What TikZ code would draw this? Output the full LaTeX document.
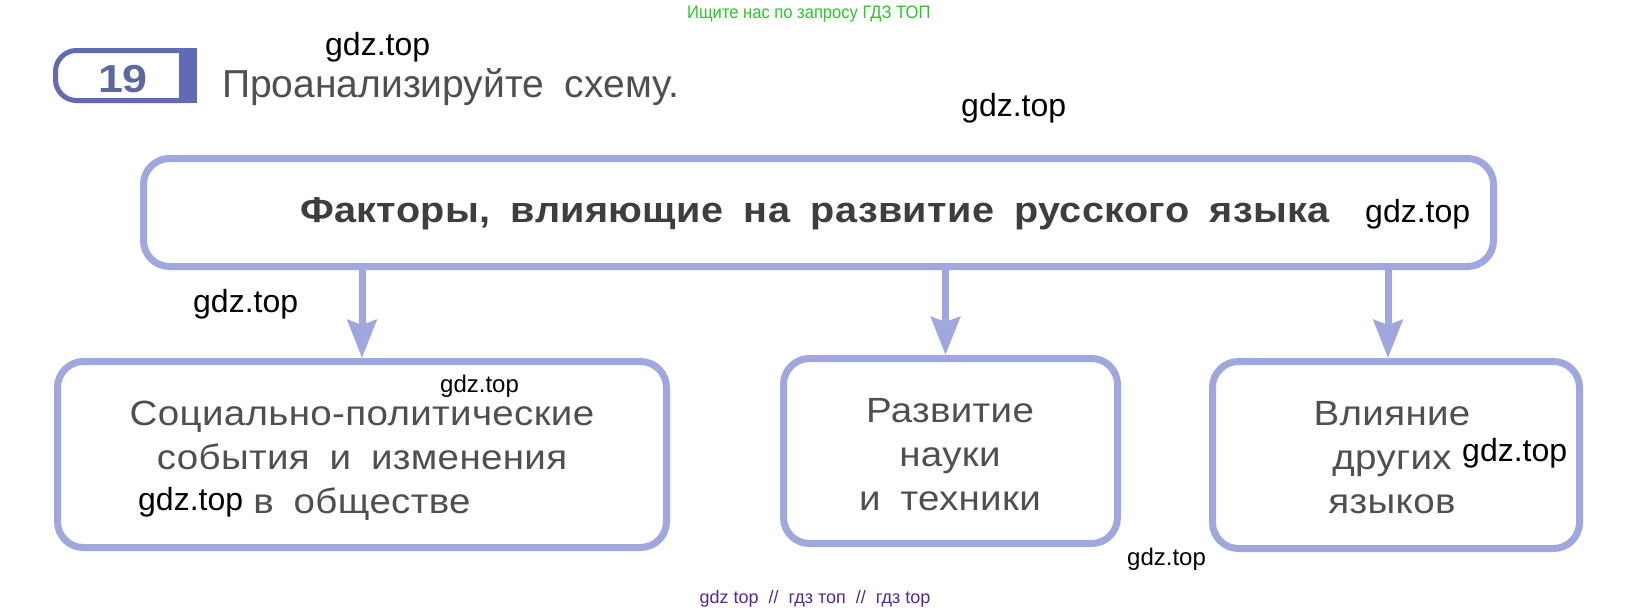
\documentclass[tikz,border=0pt]{standalone}
\usepackage{fontspec}
\setmainfont{Liberation Sans}
\newfontfamily\boxfont[FakeStretch=1.1,LetterSpace=1,WordSpace=1.8]{Liberation Sans}
\newfontfamily\taskfont[WordSpace=1.9]{Liberation Sans}
\newfontfamily\numfont[FakeStretch=1.15]{Liberation Sans}
\newfontfamily\notefont[FakeStretch=0.92]{Liberation Sans}
\usetikzlibrary{arrows.meta}
\definecolor{boxline}{RGB}{160,166,222}
\definecolor{badgeblue}{RGB}{98,106,180}
\definecolor{badgenum}{RGB}{92,104,160}
\definecolor{bodytext}{RGB}{78,80,78}
\definecolor{titletext}{RGB}{62,62,62}
\definecolor{greentext}{RGB}{40,200,40}
\definecolor{purpletext}{RGB}{88,40,140}
\begin{document}
\begin{tikzpicture}[x=1pt,y=-1pt,
  factorbox/.style={draw=boxline, line width=7pt, rounded corners=26pt, fill=white, inner sep=0pt},
  boxtext/.style={inner sep=0pt, align=center, text=bodytext, font=\boxfont\fontsize{35}{44}\selectfont},
  arr/.style={draw=boxline, line width=7pt, -{Stealth[length=38pt,width=29pt,inset=5pt]}},
  wm/.style={font=\fontsize{32}{36}\selectfont, text=black, inner sep=0pt, anchor=base west},
  wmsmall/.style={wm, font=\fontsize{24}{28}\selectfont},
  note/.style={inner sep=0pt}]
\useasboundingbox[fill=white] (0,0) rectangle (1633,611);

% header
\node[note, anchor=base west, font=\notefont\fontsize{18}{20}\selectfont, text=greentext] (topnote) at (687,18) {Ищите нас по запросу ГДЗ ТОП};

% badge
\draw[badgeblue, line width=5pt, rounded corners=21pt] (190,50.5) -- (55.5,50.5) -- (55.5,100.5) -- (190,100.5);
\fill[badgeblue] (179,48) rectangle (197,103);
\node[note, anchor=base, font=\numfont\bfseries\fontsize{39}{40}\selectfont, text=badgenum] (num) at (123,92) {19};
\node[note, anchor=base west, font=\taskfont\fontsize{39}{40}\selectfont, text=bodytext] (task) at (222,97) {Проанализируйте схему.};

% boxes
\node[factorbox, minimum width=1350pt, minimum height=108pt] (top) at (818.5,212.5) {};
\node[boxtext, font=\boxfont\bfseries\fontsize{36}{40}\selectfont, text=titletext] (title) at (815,214) {Факторы, влияющие на развитие русского языка};
\node[factorbox, minimum width=609pt, minimum height=186pt] (b1) at (362,454.5) {};
\node[factorbox, minimum width=334pt, minimum height=185pt] (b2) at (950.5,451) {};
\node[factorbox, minimum width=367pt, minimum height=187pt] (b3) at (1396,455) {};
\node[boxtext] (t1) at (362,461) {Социально-политические\\события и изменения\\в обществе};
\node[boxtext] (t2) at (950,455) {Развитие\\науки\\и техники};
\node[boxtext] (t3) at (1392,458) {Влияние\\других\\языков};

% arrows
\coordinate (a1) at (b1.north);
\coordinate (a2) at ([xshift=-5pt]b2.north);
\coordinate (a3) at ([xshift=-8pt]b3.north);
\draw[arr] (top.south -| a1) -- (a1);
\draw[arr] (top.south -| a2) -- (a2);
\draw[arr] (top.south -| a3) -- (a3);

% watermarks
\node[wm] (wm1) at (325,55) {gdz.top};
\node[wm] (wm2) at (961,116) {gdz.top};
\node[wm] (wm3) at (1365,222) {gdz.top};
\node[wm] (wm4) at (193,312) {gdz.top};
\node[wmsmall] (wm5) at (440,392) {gdz.top};
\node[wm] (wm6) at (138,510) {gdz.top};
\node[wm] (wm7) at (1462,461) {gdz.top};
\node[wmsmall] (wm8) at (1127,565) {gdz.top};

\node[note, anchor=base, font=\fontsize{18}{20}\selectfont, text=purpletext] (bottomnote) at (815,603) {gdz top \ // \ гдз топ \ // \ гдз top};
\end{tikzpicture}
\end{document}
